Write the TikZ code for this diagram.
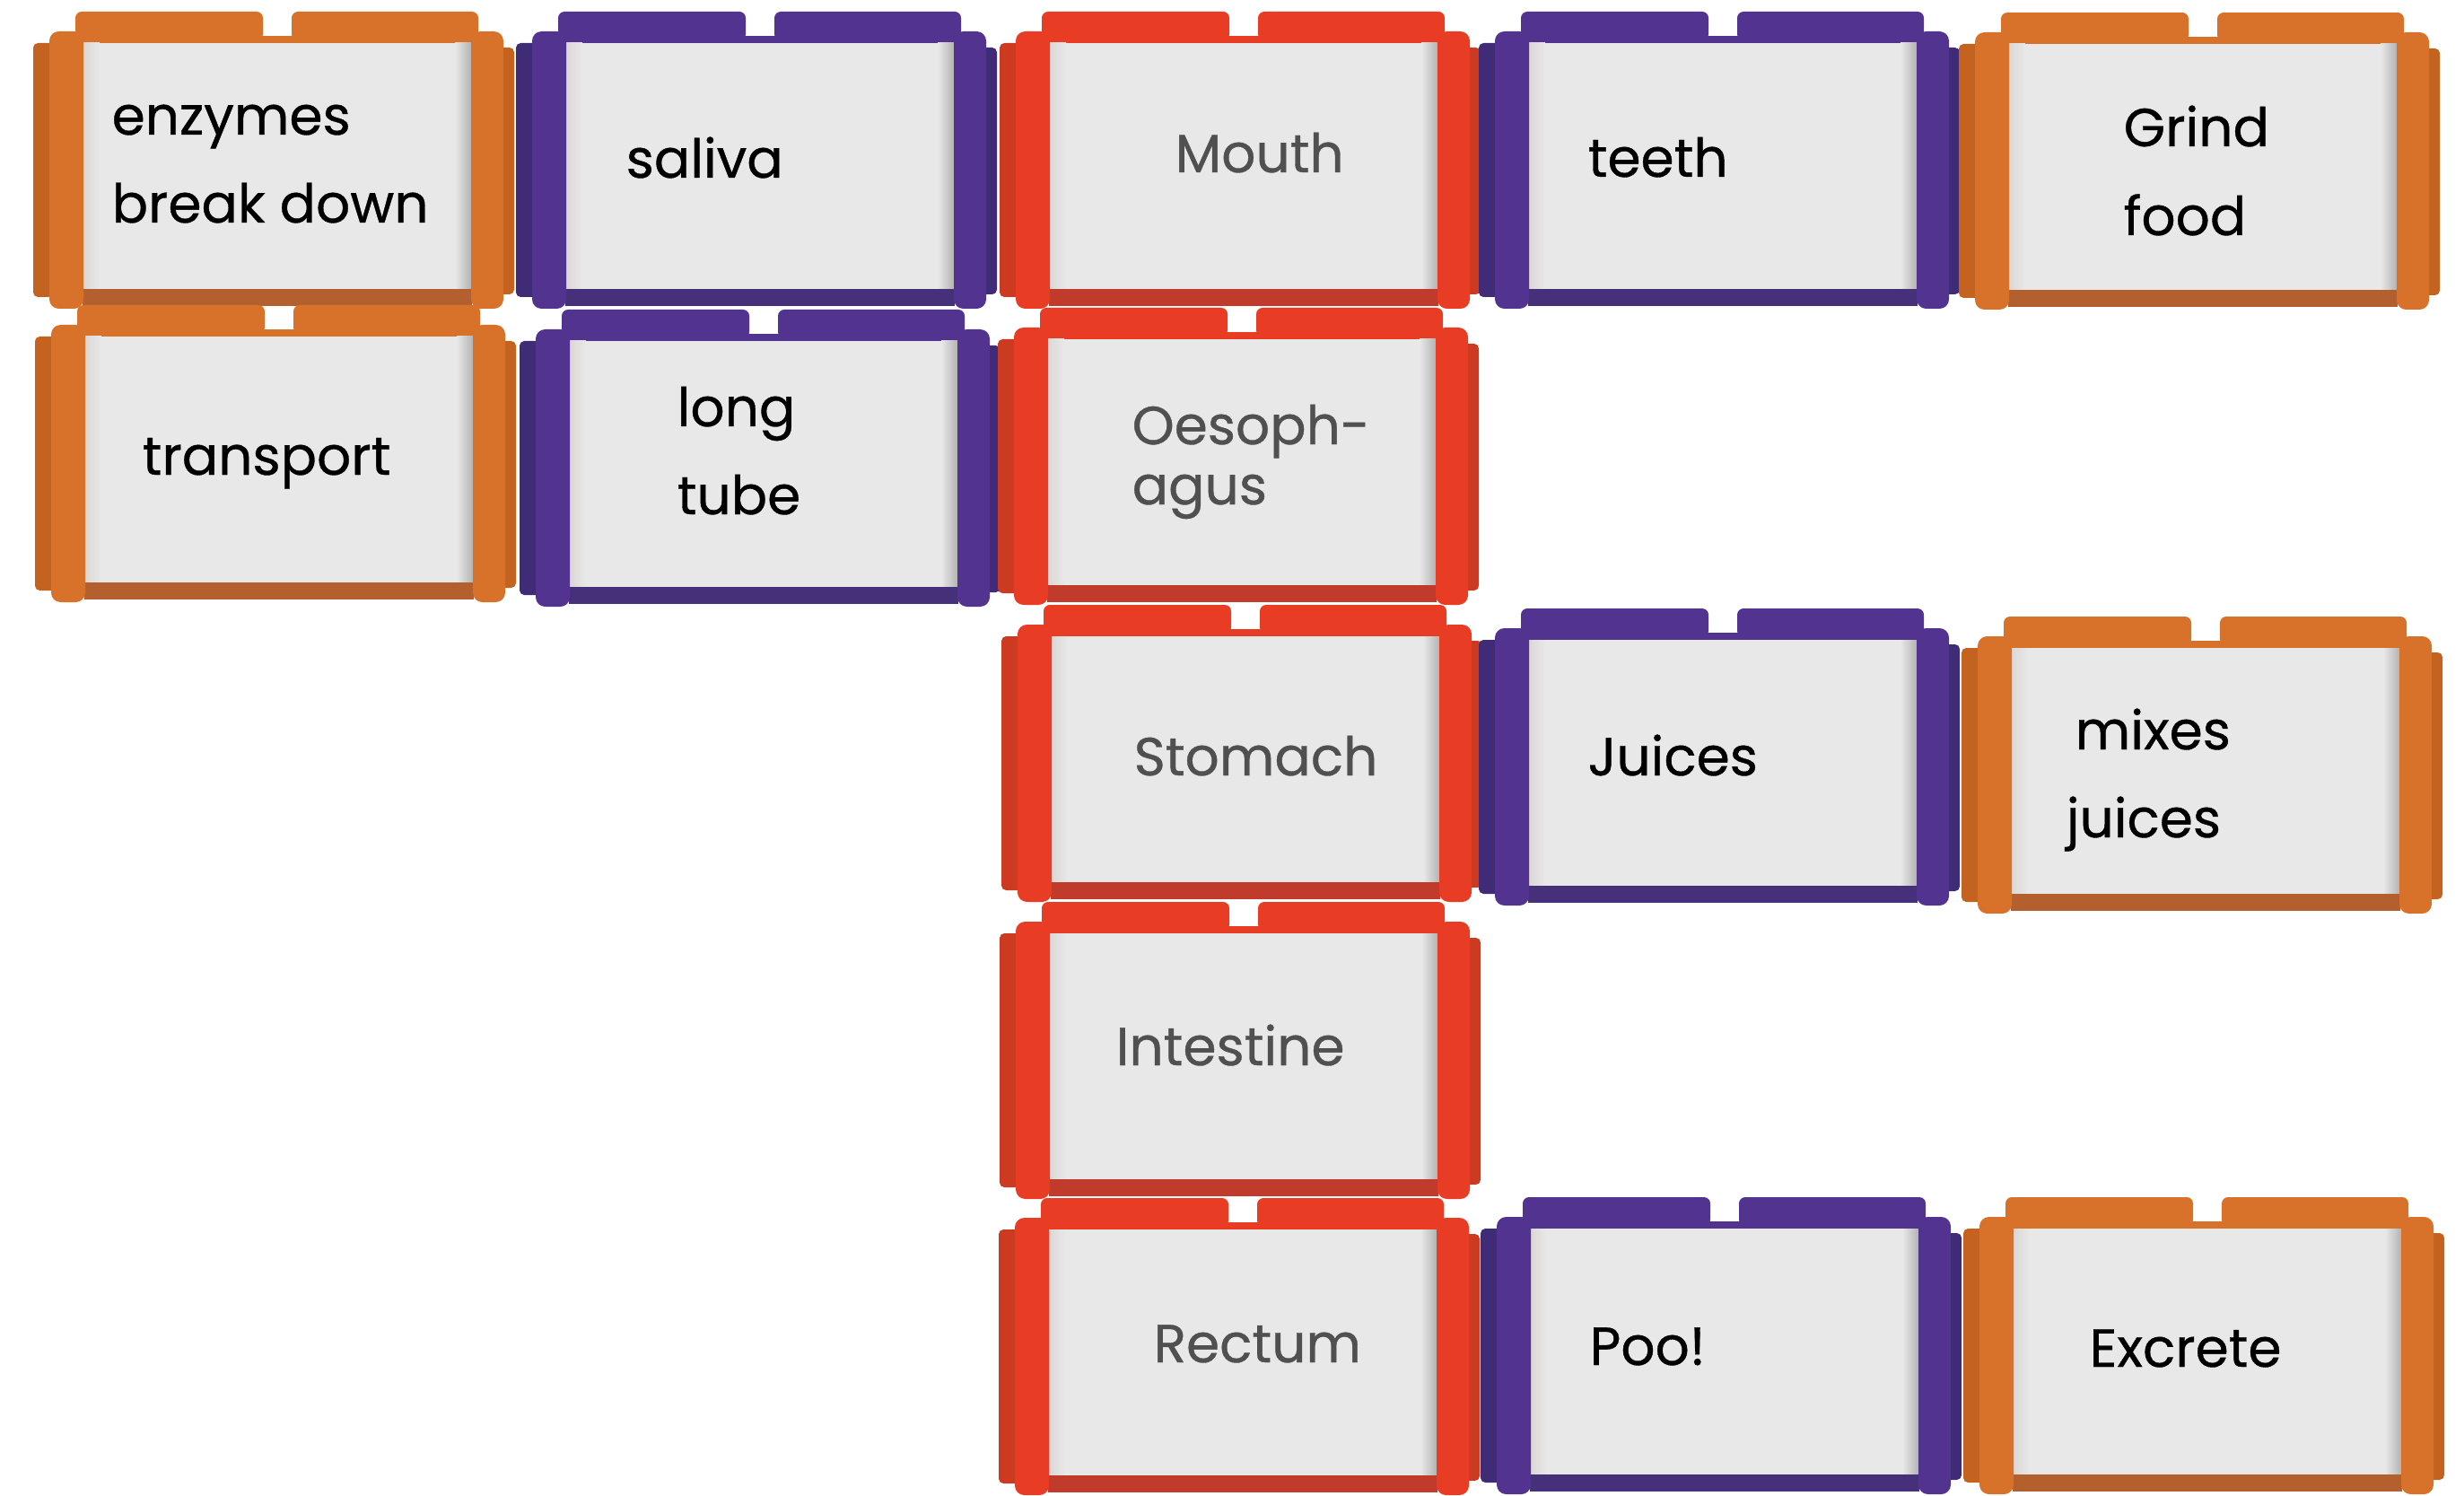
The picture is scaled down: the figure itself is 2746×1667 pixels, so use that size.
\documentclass[tikz,border=0pt]{standalone}
\usepackage{fontspec}
\setmainfont{Poppins}[UprightFeatures={FakeBold=0.6}]
\definecolor{orM}{HTML}{D8712A}
\definecolor{orD}{HTML}{B4602E}
\definecolor{orO}{HTML}{C4631F}
\definecolor{puM}{HTML}{52338F}
\definecolor{puD}{HTML}{46307A}
\definecolor{puO}{HTML}{3F2B76}
\definecolor{reM}{HTML}{E93C24}
\definecolor{reD}{HTML}{C03B2C}
\definecolor{reO}{HTML}{CC3A22}
\definecolor{panel}{HTML}{E8E8E8}
\definecolor{panelshadow}{HTML}{B0B0B0}
\definecolor{panelleft}{HTML}{DCD6D6}
\definecolor{textgrey}{HTML}{505050}
\tikzset{
  lbl/.style={anchor=base west, inner sep=0pt, font=\fontsize{17}{20}\selectfont, text=black},
  grey/.style={lbl, text=textgrey}
}
\newcommand\legoblk[3]{%
  \begin{scope}[shift={(#1,#2)}]
    \fill[#3M, rounded corners=2pt] (47,32) -- (47,0) -- (256,0) -- (256,32) -- cycle;
    \fill[#3M, rounded corners=2pt] (288,32) -- (288,0) -- (496,0) -- (496,32) -- cycle;
    \fill[#3M] (45,27) rectangle (500,37);
    \fill[#3O, rounded corners=1.5pt] (0,35) rectangle (24,318);
    \fill[panel] (55,35) rectangle (489,311);
    \shade[left color=panel, right color=panelshadow] (470,35) rectangle (489,311);
    \shade[left color=panelleft, right color=panel] (55,35) rectangle (74,311);
    \fill[#3D] (55,309) -- (489,309) -- (489,328) -- (55,328) -- cycle;
    \fill[#3M, rounded corners=3pt] (18,22) rectangle (56,331);
    \fill[#3O, rounded corners=1.5pt] (518,40) rectangle (536,315);
    \fill[#3M, rounded corners=3pt] (488,22) rectangle (524,331);
  \end{scope}}
\begin{document}
\begin{tikzpicture}[x=0.01cm, y=-0.01cm]
  \useasboundingbox (0,0) rectangle (2746,1667);
  \fill[white] (0,0) rectangle (2746,1667);
  % row 1
  \legoblk{37}{13}{or}
  \legoblk{575}{13}{pu}
  \legoblk{1114}{13}{re}
  \legoblk{1648}{13}{pu}
  \legoblk{2183}{14}{or}
  % row 2
  \legoblk{39}{340}{or}
  \legoblk{579}{345}{pu}
  \legoblk{1112}{343}{re}
  % row 3
  \legoblk{1116}{674}{re}
  \legoblk{1648}{678}{pu}
  \legoblk{2186}{687}{or}
  % row 4
  \legoblk{1114}{1005}{re}
  % row 5
  \legoblk{1113}{1335}{re}
  \legoblk{1650}{1334}{pu}
  \legoblk{2188}{1334}{or}
  % labels
  \node[lbl] (enz1) at (124,150) {enzymes};
  \node[lbl] (enz2) at (124,248) {break down};
  \node[lbl] (sal) at (697,198) {saliva};
  \node[grey] (mouth) at (1309,192) {Mouth};
  \node[lbl] (teeth) at (1769,197) {teeth};
  \node[lbl] (grind1) at (2366,163) {Grind};
  \node[lbl] (grind2) at (2366,262) {food};
  \node[lbl] (trans) at (158,529) {transport};
  \node[lbl] (long1) at (754,475) {long};
  \node[lbl] (long2) at (754,573) {tube};
  \node[grey] (oes1) at (1261,495) {Oesoph-};
  \node[grey] (oes2) at (1261,562) {agus};
  \node[grey] (stom) at (1263,864) {Stomach};
  \node[lbl] (juice) at (1769,864) {Juices};
  \node[lbl] (mix1) at (2312,835) {mixes};
  \node[lbl] (mix2) at (2302,933) {juices};
  \node[grey] (intest) at (1243,1187) {Intestine};
  \node[grey] (rect) at (1285,1518) {Rectum};
  \node[lbl] (poo) at (1771,1521) {Poo!};
  \node[lbl] (excr) at (2328,1523) {Excrete};
\end{tikzpicture}
\end{document}
